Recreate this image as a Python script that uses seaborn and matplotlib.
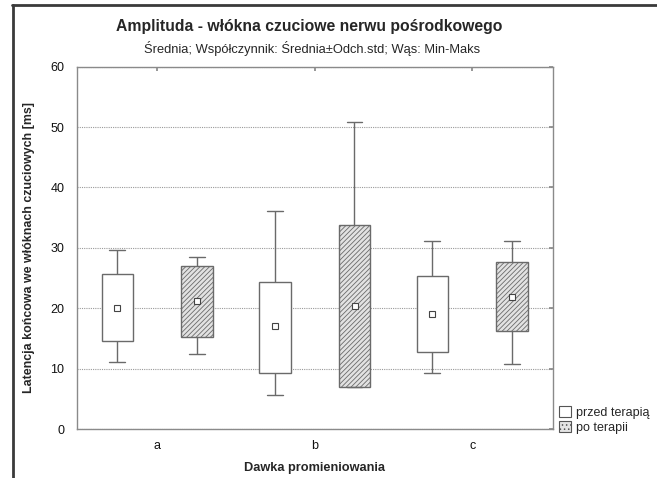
import numpy as np
import pandas as pd
import matplotlib
matplotlib.use("Agg")
import matplotlib.pyplot as plt
from matplotlib.patches import Patch
from matplotlib.lines import Line2D
import seaborn as sns

# ---- data ----
categories = ["a", "b", "c"]
groups = ["przed terapią", "po terapii"]

mean_before = [20.0, 17.0, 19.1]
sd_lo_before = [14.6, 9.2, 12.7]
sd_hi_before = [25.6, 24.3, 25.4]
min_before = [11.1, 5.7, 9.2]
max_before = [29.6, 36.1, 31.2]

mean_after = [21.2, 20.4, 21.9]
sd_lo_after = [15.3, 7.0, 16.3]
sd_hi_after = [27.0, 33.7, 27.6]
min_after = [12.5, 7.0, 10.8]
max_after = [28.5, 50.9, 31.2]

y_ticks = [0, 10, 20, 30, 40, 50, 60]

# ---- tables built from the summary values ----
rows = []
for g, mn, lo, hi, mx in [
    (groups[0], min_before, sd_lo_before, sd_hi_before, max_before),
    (groups[1], min_after, sd_lo_after, sd_hi_after, max_after),
]:
    for i, c in enumerate(categories):
        # 8 points whose quartiles are lo/hi and extremes are min/max
        for v in [mn[i], lo[i], lo[i], lo[i], hi[i], hi[i], hi[i], mx[i]]:
            rows.append({"Dawka": c, "Grupa": g, "val": v})
box_df = pd.DataFrame(rows)

means_df = pd.DataFrame(
    {"Dawka": categories * 2,
     "Grupa": [groups[0]] * 3 + [groups[1]] * 3,
     "mean": mean_before + mean_after}
)

sns.set_theme(style="white")
plt.rcParams["font.family"] = ["Liberation Sans", "DejaVu Sans"]
plt.rcParams["hatch.color"] = "#555555"
plt.rcParams["hatch.linewidth"] = 0.6

fig = plt.figure(figsize=(6.57, 4.78), dpi=100)
ax = fig.add_axes([0.117, 0.1025, 0.724, 0.758])

edge = "#6a6a6a"
sns.boxplot(
    data=box_df, x="Dawka", y="val", hue="Grupa", order=categories,
    hue_order=groups, whis=(0, 100), width=1.01, gap=0.6, dodge=True,
    palette={groups[0]: "white", groups[1]: "#dcdcdc"},
    linecolor=edge, linewidth=1.0, legend=False, ax=ax,
    medianprops={"linewidth": 0, "alpha": 0},
    showfliers=False,
)

# hatch the "po terapii" boxes
for p in ax.patches:
    try:
        vx = p.get_path().vertices[:, 0]
    except Exception:
        continue
    cx = np.mean([vx.min(), vx.max()])
    if cx - round(cx) > 0:
        p.set_hatch("///////")
        p.set_facecolor("#e2e2e2")

sns.pointplot(
    data=means_df, x="Dawka", y="mean", hue="Grupa", order=categories,
    hue_order=groups, dodge=0.506, linestyle="none", markers="s",
    palette={groups[0]: "white", groups[1]: "white"}, errorbar=None,
    markersize=5, markeredgecolor="#444444", markeredgewidth=0.8,
    legend=False, ax=ax, zorder=5,
)

ax.set_xlim(-0.51, 2.51)
ax.set_ylim(0, 60)
ax.set_yticks(y_ticks)
ax.set_xticks(range(len(categories)))
ax.set_xticklabels(categories)
ax.yaxis.grid(True, linestyle=(0, (1, 1)), color="#9a9a9a", linewidth=0.8)
ax.set_axisbelow(True)
for s in ax.spines.values():
    s.set_visible(True)
    s.set_color("#8a8a8a")
    s.set_linewidth(1.0)
ax.tick_params(axis="both", direction="in", top=True, right=True,
               length=3, color="#8a8a8a", labelsize=9, labelcolor="#111111")
ax.tick_params(axis="y", pad=9)
ax.tick_params(axis="x", pad=8)

ax.set_xlabel("Dawka promieniowania", fontsize=9.2, fontweight="bold", labelpad=7)
ax.set_ylabel("Latencja końcowa we włóknach czuciowych [ms]", fontsize=8.9,
              fontweight="bold", labelpad=11)

fig.text(0.47, 0.944, "Amplituda - włókna czuciowe nerwu pośrodkowego",
         ha="center", va="center", fontsize=11.3, fontweight="bold")
fig.text(0.475, 0.899, "Średnia; Współczynnik: Średnia±Odch.std; Wąs: Min-Maks",
         ha="center", va="center", fontsize=9.3)

handles = [
    Patch(facecolor="white", edgecolor="#555555", linewidth=0.8),
    Patch(facecolor="#e4e4e4", edgecolor="#555555", hatch="....", linewidth=0.8),
]
fig.legend(handles, groups, loc="upper left", bbox_to_anchor=(0.838, 0.168),
           frameon=False, fontsize=9, handlelength=0.9, handleheight=0.9,
           handletextpad=0.4, labelspacing=0.2, borderpad=0.2)

# outer frame lines (top and left)
fig.add_artist(Line2D([0.019, 1.0], [0.99, 0.99], color="#3a3a3a", linewidth=2,
                      transform=fig.transFigure))
fig.add_artist(Line2D([0.02, 0.02], [0.0, 0.99], color="#3a3a3a", linewidth=2,
                      transform=fig.transFigure))

fig.savefig("out.png", dpi=100)
